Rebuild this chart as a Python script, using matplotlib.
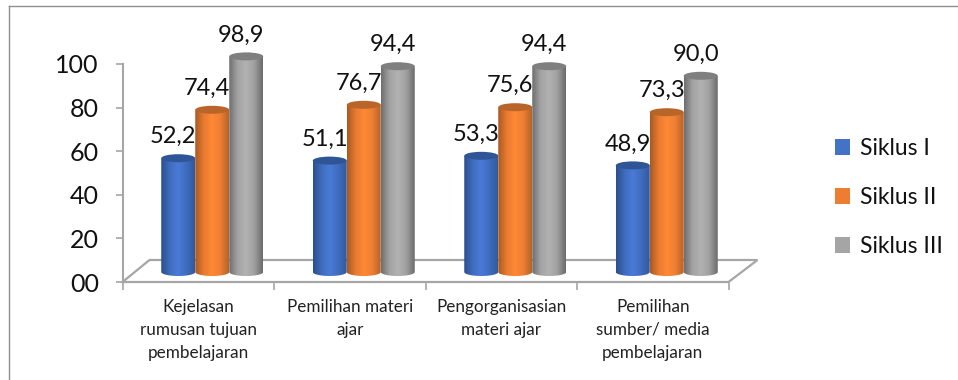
import numpy as np
import matplotlib
matplotlib.use("Agg")
import matplotlib.pyplot as plt
from matplotlib.colors import LinearSegmentedColormap
from matplotlib.lines import Line2D
from matplotlib.patches import Ellipse, Patch, PathPatch
from matplotlib.path import Path

plt.rcParams['font.family'] = ['Lato', 'DejaVu Sans']

# data
kategori = ["Kejelasan\nrumusan tujuan\npembelajaran",
            "Pemilihan materi\najar",
            "Pengorganisasian\nmateri ajar",
            "Pemilihan\nsumber/ media\npembelajaran"]
siklus = ["Siklus I", "Siklus II", "Siklus III"]
siklus_1 = [52.2, 51.1, 53.3, 48.9]
siklus_2 = [74.4, 76.7, 75.6, 73.3]
siklus_3 = [98.9, 94.4, 94.4, 90.0]
y_ticks = [0, 20, 40, 60, 80, 100]
y_labels = ["00", "20", "40", "60", "80", "100"]

# colours of each cylinder: edge / highlight / edge, plus the top cap
warna_legend = ["#4472c4", "#ed7d31", "#a5a5a5"]
warna_tutup = ["#2f5597", "#b9652a", "#7f7f7f"]
warna_badan = [["#2c4f8f", "#3f6cbd", "#4a7bd6", "#3f6cbd", "#325a9f"],
               ["#a85a22", "#e87a30", "#ff8835", "#ee7f32", "#b5642a"],
               ["#6f6f6f", "#a3a3a3", "#b2b2b2", "#a0a0a0", "#6b6b6b"]]
warna_garis = "#a6a6a6"

W, H = 958, 380
fig = plt.figure(figsize=(W / 100, H / 100), dpi=100)
ax = fig.add_axes([122.5 / W, (H - 282) / H, 606 / W, 218 / H])
ax.set_xlim(0, 4)
ax.set_ylim(0, 100)
ax.patch.set_visible(False)

# pixel sizes converted to data units
px_x = 4 / 606
px_y = 100 / 218
lebar = 34 * px_x
geser_x = 14 * px_x
dasar = 10 * px_y
ry = 4 * px_y

# outer frame, only top and left are visible
fig.add_artist(Line2D([8.5 / W, 8.5 / W], [0, 1 - 6 / H], color="#8f8f8f", lw=1))
fig.add_artist(Line2D([8.5 / W, 1], [1 - 6 / H, 1 - 6 / H], color="#8f8f8f", lw=1))

# axes and the floor of the 3d box
for s in ["top", "right", "bottom"]:
    ax.spines[s].set_visible(False)
ax.spines["left"].set_color(warna_garis)
ax.spines["left"].set_linewidth(1.5)
lantai_x = [0, 4, 4 + 29 * px_x, 27 * px_x, 0]
lantai_y = [0, 0, 22 * px_y, 22 * px_y, 0]
ax.plot(lantai_x, lantai_y, color=warna_garis, lw=1.6, clip_on=False, zorder=1,
        solid_joinstyle="miter")

ax.set_yticks(y_ticks)
ax.set_yticklabels(y_labels, fontsize=18, color="#111111")
ax.tick_params(axis="y", length=5, width=1.2, color=warna_garis, pad=12)
ax.set_xticks(range(5))
ax.set_xticklabels([])
ax.tick_params(axis="x", length=6, width=1.2, color=warna_garis)
for i, k in enumerate(kategori):
    ax.annotate(k, (i + 0.5, 0), xytext=(0, -12), textcoords="offset points",
                ha="center", va="top", fontsize=12.3, color="#222222", linespacing=1.55)


def silinder(xc, nilai, warna, tutup, z):
    # cylinder body: gradient image clipped to a rounded bottom
    x0, x1 = xc - lebar / 2, xc + lebar / 2
    top = dasar + nilai
    t = np.linspace(np.pi, 2 * np.pi, 40)
    bx = xc + lebar / 2 * np.cos(t)
    by = dasar + ry * np.sin(t)
    verts = [(x0, top)] + list(zip(bx, by)) + [(x1, top), (x0, top)]
    patch = PathPatch(Path(verts), fc="none", ec="none", transform=ax.transData, zorder=z,
                      clip_on=False)
    ax.add_patch(patch)
    cmap = LinearSegmentedColormap.from_list("badan", warna)
    gradien = np.linspace(0, 1, 64).reshape(1, -1)
    im = ax.imshow(gradien, cmap=cmap, aspect="auto", extent=[x0, x1, 0, top + ry],
                   zorder=z)
    # the tallest cylinders rise above the axes box
    im.set_clip_box(fig.bbox)
    im.set_clip_path(patch)
    ax.add_patch(Ellipse((xc, top), lebar, 2 * ry, fc=tutup, ec="none", zorder=z + 0.1,
                         clip_on=False))


z = 2
for j, nilai in enumerate([siklus_1, siklus_2, siklus_3]):
    for i, v in enumerate(nilai):
        xc = i + 0.5 + geser_x + (j - 1) * lebar
        silinder(xc, v, warna_badan[j], warna_tutup[j], z)
        z += 1
        ax.annotate(f"{v:.1f}".replace(".", ","), (xc, dasar + v), xytext=(-3.6, 15.5),
                    textcoords="offset points", ha="center", va="center", fontsize=17,
                    color="#111111", zorder=50, annotation_clip=False)

ax.set_xlim(0, 4)
ax.set_ylim(0, 100)

# legend
handles = [Patch(fc=c, ec="none") for c in warna_legend]
fig.legend(handles, siklus, loc="center left", bbox_to_anchor=(814 / W, 1 - 197.5 / H),
           frameon=False, fontsize=16.5, handlelength=0.66, handleheight=0.66,
           handletextpad=0.45, labelspacing=1.22, borderpad=0.4, labelcolor="#111111")

fig.savefig("out.png", dpi=100)
